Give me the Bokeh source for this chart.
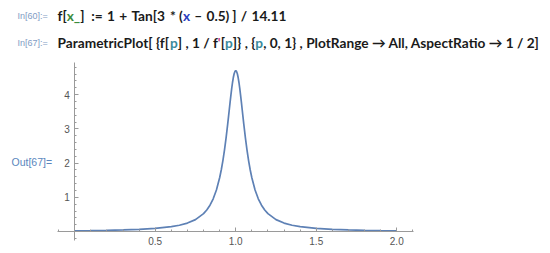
import glob, os, struct
from bokeh.plotting import figure
from bokeh.models import Range1d, LinearAxis, FixedTicker, Label
from bokeh.embed import file_html
from bokeh.resources import INLINE

# Curve: x = f(p), y = 1/f'(p)
x_vals = [0.0006, 0.1, 0.2, 0.3, 0.4, 0.5, 0.6, 0.65, 0.7, 0.75, 0.8, 0.82, 0.84, 0.86, 0.88,
          0.9, 0.91, 0.92, 0.93, 0.94, 0.95, 0.955, 0.96, 0.965, 0.97, 0.975, 0.98, 0.985, 0.99, 0.995,
          1.0,
          1.005, 1.01, 1.015, 1.02, 1.025, 1.03, 1.035, 1.04, 1.045, 1.05, 1.06, 1.07, 1.08, 1.09, 1.1,
          1.12, 1.14, 1.16, 1.18, 1.2, 1.25, 1.3, 1.35, 1.4, 1.5, 1.6, 1.7, 1.8, 1.9, 1.9994]
y_vals = [0.0235, 0.029, 0.0366, 0.0477, 0.0647, 0.0926, 0.1432, 0.185, 0.249, 0.350, 0.525, 0.631, 0.771, 0.959, 1.216,
          1.572, 1.800, 2.068, 2.381, 2.740, 3.140, 3.352, 3.567, 3.781, 3.988, 4.183, 4.356, 4.501, 4.611, 4.680,
          4.703,
          4.680, 4.611, 4.501, 4.356, 4.183, 3.988, 3.781, 3.567, 3.352, 3.140, 2.740, 2.381, 2.068, 1.800, 1.572,
          1.216, 0.959, 0.771, 0.631, 0.525, 0.350, 0.249, 0.185, 0.1432, 0.0926, 0.0647, 0.0477, 0.0366, 0.029, 0.0235]

x_ticks = [0.5, 1.0, 1.5, 2.0]
x_tick_labels = ["0.5", "1.0", "1.5", "2.0"]
y_ticks = [1, 2, 3, 4]
y_tick_labels = ["1", "2", "3", "4"]
x_minor = [round(-0.1 + 0.1 * i, 1) for i in range(23)]
y_minor = [round(-0.2 + 0.2 * i, 1) for i in range(26)]
x_axis_extent = (-0.107, 2.104)
y_axis_extent = (-0.26, 4.94)

BLACK, GREEN, BLUE, TEAL, PINK = "#1a1a1a", "#3c8c3c", "#2a3fc0", "#3a8a9c", "#d0408a"
# input line 1: tokens with relative gap before each (operator spacing)
line1 = [("f[", BLACK, 0), ("x_", GREEN, 0), ("]", BLACK, 0), (":=", BLACK, 1.6), ("1", BLACK, 1),
         ("+", BLACK, 1), ("Tan[3", BLACK, 1), ("*", BLACK, 0.8), ("(", BLACK, 0.8),
         ("x", BLUE, 0), ("\u2013", BLACK, 1), ("0.5)", BLACK, 1), ("]", BLACK, 0.7),
         ("/", BLACK, 1), ("14.11", BLACK, 1)]
line2 = [("ParametricPlot[ {f[", BLACK), ("p", TEAL), ("] , 1 / f", BLACK),
         ("'", PINK), ("[", BLACK), ("p", TEAL), ("]} , {", BLACK),
         ("p", TEAL), (", 0, 1} , PlotRange \u2192 All, AspectRatio \u2192 1 / 2]", BLACK)]


# ---- text measurement (layout helper only) ----
def load_metrics(path):
    data = open(path, "rb").read()
    num = struct.unpack(">H", data[4:6])[0]
    tabs = {}
    for i in range(num):
        rec = data[12 + 16 * i: 28 + 16 * i]
        tag = rec[:4].decode("latin-1")
        off, ln = struct.unpack(">II", rec[8:16])
        tabs[tag] = off
    upem = struct.unpack(">H", data[tabs["head"] + 18: tabs["head"] + 20])[0]
    nh = struct.unpack(">H", data[tabs["hhea"] + 34: tabs["hhea"] + 36])[0]
    hm = tabs["hmtx"]
    adv = [struct.unpack(">H", data[hm + 4 * i: hm + 4 * i + 2])[0] for i in range(nh)]
    c = tabs["cmap"]
    nt = struct.unpack(">H", data[c + 2: c + 4])[0]
    sub = None
    for i in range(nt):
        pid, eid, so = struct.unpack(">HHI", data[c + 4 + 8 * i: c + 12 + 8 * i])
        fmt = struct.unpack(">H", data[c + so: c + so + 2])[0]
        if pid == 3 and eid in (1, 10) and fmt in (4, 12):
            if sub is None or fmt == 12:
                sub = (c + so, fmt)
    base, fmt = sub

    def gid(ch):
        cp = ord(ch)
        if fmt == 12:
            ng = struct.unpack(">I", data[base + 12: base + 16])[0]
            for k in range(ng):
                s, e, g = struct.unpack(">III", data[base + 16 + 12 * k: base + 28 + 12 * k])
                if s <= cp <= e:
                    return g + cp - s
            return 0
        segx2 = struct.unpack(">H", data[base + 6: base + 8])[0]
        seg = segx2 // 2
        ends = base + 14
        starts = ends + segx2 + 2
        deltas = starts + segx2
        ranges = deltas + segx2
        for k in range(seg):
            e = struct.unpack(">H", data[ends + 2 * k: ends + 2 * k + 2])[0]
            if cp <= e:
                s = struct.unpack(">H", data[starts + 2 * k: starts + 2 * k + 2])[0]
                if cp < s:
                    return 0
                d = struct.unpack(">h", data[deltas + 2 * k: deltas + 2 * k + 2])[0]
                ro = struct.unpack(">H", data[ranges + 2 * k: ranges + 2 * k + 2])[0]
                if ro == 0:
                    return (cp + d) & 0xFFFF
                addr = ranges + 2 * k + ro + 2 * (cp - s)
                g = struct.unpack(">H", data[addr: addr + 2])[0]
                return (g + d) & 0xFFFF if g else 0
        return 0

    def width_em(txt):
        tot = 0
        for ch in txt:
            g = gid(ch)
            tot += adv[g] if g < nh else adv[-1]
        return tot / upem
    return width_em


fallback = {" ": .193, "P": .61, "a": .5, "r": .37, "m": .83, "e": .52, "t": .36, "i": .25, "c": .46,
            "l": .25, "o": .56, "[": .32, "]": .32, "{": .34, "}": .34, "f": .33, "p": .56, ",": .21,
            "1": .58, "/": .36, "'": .22, "x": .5, "_": .42, ":": .25, "=": .58, "+": .58, "T": .55,
            "n": .56, "3": .58, "*": .4, "(": .3, ")": .3, "\u2013": .5, "0": .58, ".": .22, "5": .58,
            "4": .58, "2": .58, "g": .52, "A": .68, "R": .62, "\u2192": .6, "s": .42}

width_em = None
for pat in ["/usr/share/fonts/**/Lato-Bold.ttf", "/usr/local/share/fonts/**/Lato-Bold.ttf",
            os.path.expanduser("~/.fonts/**/Lato-Bold.ttf"), "/usr/share/fonts/**/Lato*Bold*.ttf"]:
    hits = [h for h in glob.glob(pat, recursive=True) if "Italic" not in h]
    if hits:
        try:
            width_em = load_metrics(hits[0])
            break
        except Exception:
            width_em = None
if width_em is None:
    width_em = lambda t: sum(fallback.get(ch, .5) for ch in t)

W, H = 550, 253
# pixel placement of the axes box in the picture
fl, fr, ft, fb = 57, 413, 62, 240
sx = (fr - fl) / (x_axis_extent[1] - x_axis_extent[0])
sy = (fb - ft) / (y_axis_extent[1] - y_axis_extent[0])
xr = Range1d(x_axis_extent[0] - fl / sx, x_axis_extent[1] + (W - fr) / sx)
yr = Range1d(y_axis_extent[0] - (H - fb) / sy, y_axis_extent[1] + ft / sy)

p = figure(width=W, height=H, output_backend="svg", toolbar_location=None,
           x_range=xr, y_range=yr,
           min_border=0, min_border_left=0, min_border_right=0, min_border_top=0, min_border_bottom=0,
           x_axis_type=None, y_axis_type=None)
p.outline_line_color = None
p.grid.visible = False
p.background_fill_color = "white"
p.border_fill_color = "white"

axis_color = "#9a9a9a"
label_color = "#555555"

xa = LinearAxis(fixed_location=0, bounds=x_axis_extent,
                ticker=FixedTicker(ticks=x_ticks, minor_ticks=x_minor))
xa.major_label_overrides = {t: l for t, l in zip(x_ticks, x_tick_labels)}
ya = LinearAxis(fixed_location=0, bounds=y_axis_extent,
                ticker=FixedTicker(ticks=y_ticks, minor_ticks=y_minor))
ya.major_label_overrides = {t: l for t, l in zip(y_ticks, y_tick_labels)}
for a in (xa, ya):
    a.axis_line_color = axis_color
    a.major_tick_line_color = axis_color
    a.minor_tick_line_color = axis_color
    a.major_tick_in = 4
    a.major_tick_out = 0
    a.minor_tick_in = 2
    a.minor_tick_out = 0
    a.major_label_text_color = label_color
    a.major_label_text_font = "Liberation Sans"
    a.major_label_text_font_size = "10px"
    a.major_label_standoff = 5
p.add_layout(xa, "below")
p.add_layout(ya, "left")

p.line(x_vals, y_vals, line_color="#5E81B5", line_width=1.7)


def add_text(txt, px, py, color, size, bold=False, font="Lato"):
    p.add_layout(Label(x=px, y=H - py, x_units="screen", y_units="screen", text=txt,
                       text_color=color, text_font_size=size, text_font=font,
                       text_font_style="bold" if bold else "normal",
                       text_baseline="middle", text_align="left"))


add_text("In[60]:=", 17, 15, "#7f9cc4", "9px", font="Liberation Sans")
add_text("In[67]:=", 17, 42, "#7f9cc4", "9px", font="Liberation Sans")
add_text("Out[67]=", 11, 161, "#5a86bd", "10.5px", font="Liberation Sans")

# fit code font so line 2 spans from x=57 to x=540 as in the picture
full2 = "".join(t for t, _ in line2)
fs = (540 - 57) / width_em(full2)
fs = max(11.0, min(fs, 14.5))

# line 1: spread operator gaps evenly (end target corrected for rendering)
tok_w = sum(width_em(t) * fs for t, _, _ in line1)
gap_unit = max(0.0, (286 - 57 - tok_w) / sum(g for _, _, g in line1))
cx = 57.0
for txt, col, g in line1:
    cx += g * gap_unit
    add_text(txt, cx, 15, col, "%.2fpx" % fs, bold=True)
    cx += width_em(txt) * fs

cx = 57.0
for txt, col in line2:
    lead = len(txt) - len(txt.lstrip(" "))
    add_text(txt.strip(" "), cx + width_em(" " * lead) * fs, 42, col, "%.2fpx" % fs, bold=True)
    cx += width_em(txt) * fs

open("out.html", "w").write(file_html(p, INLINE))
